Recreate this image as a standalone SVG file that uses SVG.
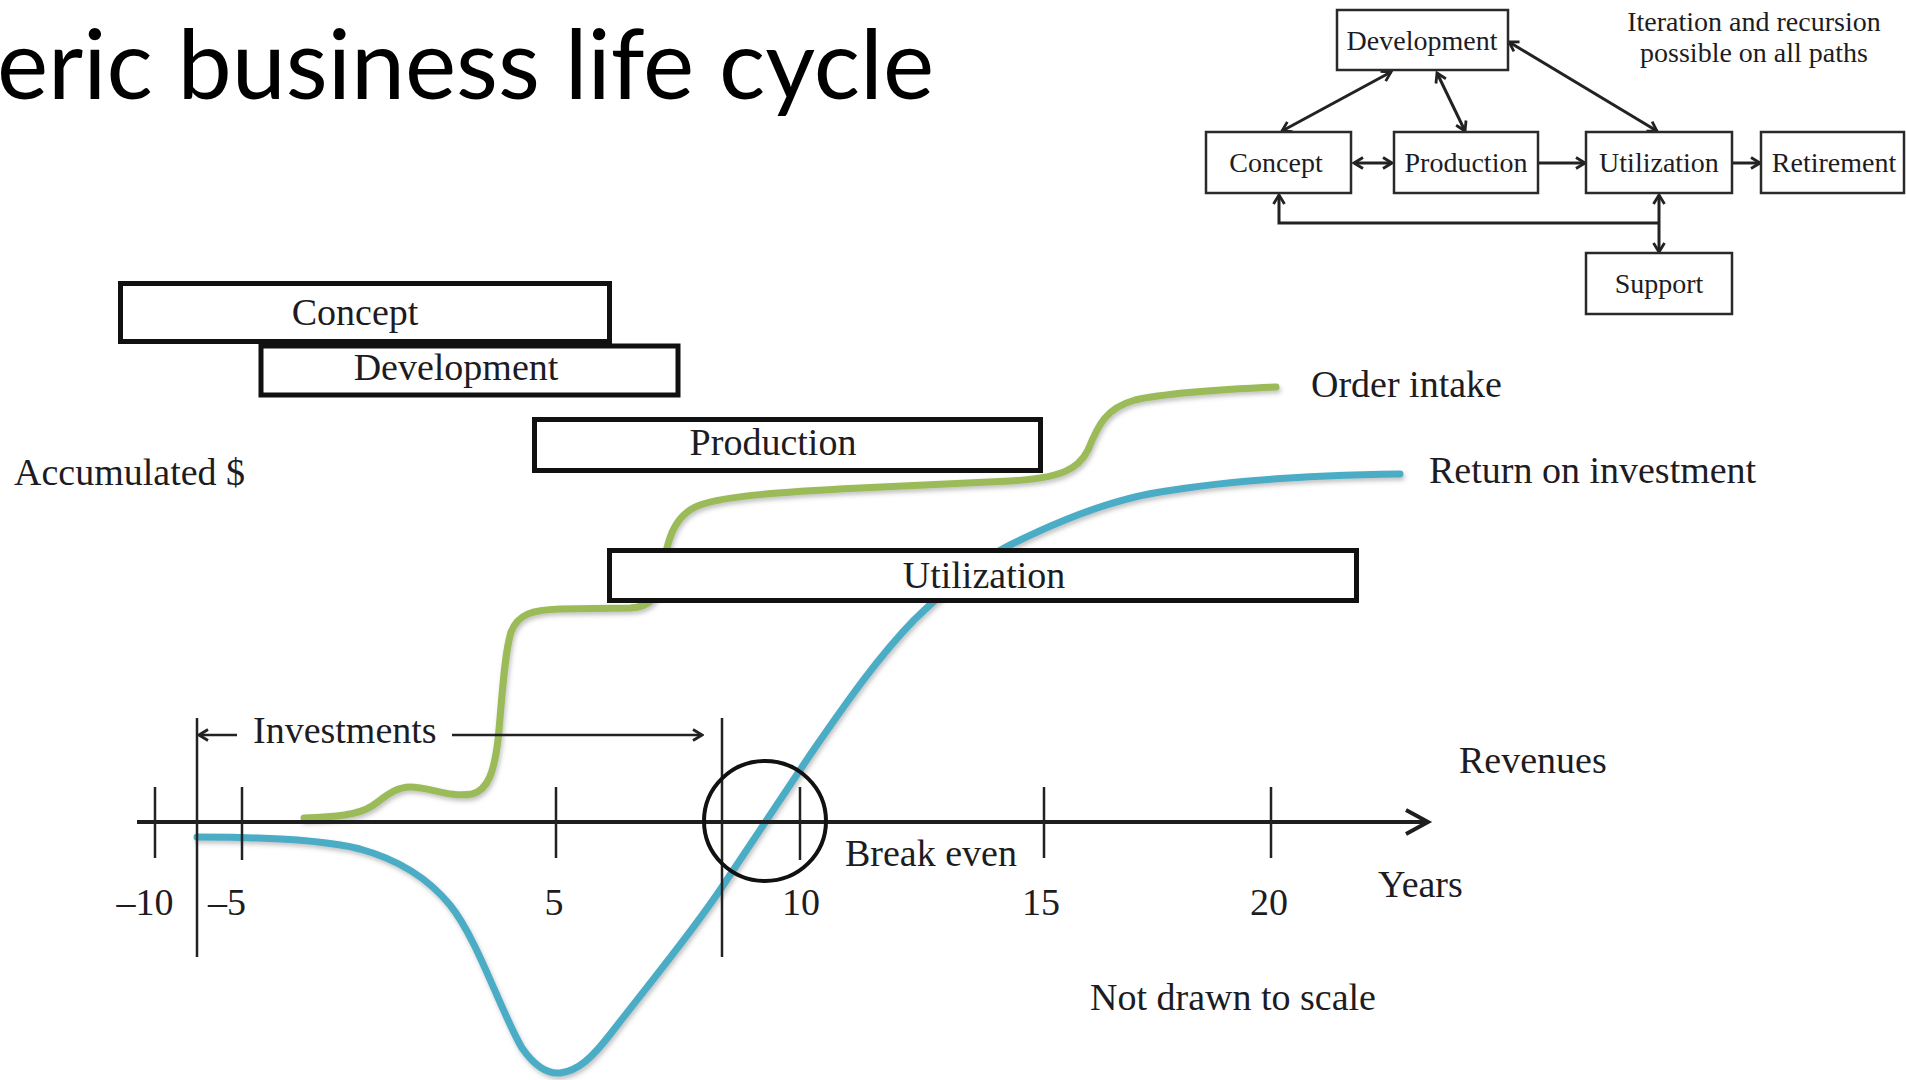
<svg xmlns="http://www.w3.org/2000/svg" width="1906" height="1080" viewBox="0 0 1906 1080">
  <style>
    .bg { fill: #ffffff; }
    .title { font-family: Lato, "Open Sans", sans-serif; font-size: 96px; fill: #000; }
    .lbl { font-family: "Liberation Serif", "Times New Roman", serif; font-size: 38px; fill: #1c1c22; }
    .sm { font-family: "Liberation Serif", "Times New Roman", serif; font-size: 28px; fill: #1c1c22; }
    .mid { text-anchor: middle; }
    .box { fill: #ffffff; stroke: #2a2a2a; stroke-width: 2.5; }
    .bar { fill: #ffffff; stroke: #111; stroke-width: 5; }
    .conn { fill: none; stroke: #222; stroke-width: 3; }
    .thin { fill: none; stroke: #222; stroke-width: 2.5; }
    .axis { fill: none; stroke: #1e1e1e; stroke-width: 4; }
    .curve { fill: none; stroke-width: 7; stroke-linecap: round; stroke-linejoin: round; filter: url(#shade); }
  </style>
  <defs>
    <marker id="tip" viewBox="-12 -8 14 16" markerWidth="14" markerHeight="16" refX="0" refY="0" orient="auto-start-reverse" markerUnits="userSpaceOnUse">
      <path d="M-9,-5.5 L0,0 L-9,5.5" fill="none" stroke="#222" stroke-width="2.8"/>
    </marker>
    <filter id="shade" x="-5%" y="-5%" width="110%" height="115%">
      <feDropShadow dx="1.5" dy="3" stdDeviation="2" flood-color="#555" flood-opacity="0.35"/>
    </filter>
  </defs>

  <rect class="bg" x="0" y="0" width="1906" height="1080"/>

  <!-- slide title -->
  <text class="title" x="-3" y="99" textLength="937" lengthAdjust="spacingAndGlyphs">eric business life cycle</text>

  <!-- life-cycle stage graph, top right -->
  <g id="connectors">
    <path class="conn" d="M1354,163 L1392,163" marker-start="url(#tip)" marker-end="url(#tip)"/>
    <path class="conn" d="M1539,163 L1585,163" marker-end="url(#tip)"/>
    <path class="conn" d="M1733,163 L1760,163" marker-end="url(#tip)"/>
    <path class="conn" d="M1391,72 L1282,131" marker-start="url(#tip)" marker-end="url(#tip)"/>
    <path class="conn" d="M1437,73 L1465,131" marker-start="url(#tip)" marker-end="url(#tip)"/>
    <path class="conn" d="M1509,42 L1657,131" marker-start="url(#tip)" marker-end="url(#tip)"/>
    <path class="conn" d="M1279,195 L1279,223 L1659,223" marker-start="url(#tip)"/>
    <path class="conn" d="M1659,195 L1659,252" marker-start="url(#tip)" marker-end="url(#tip)"/>
  </g>

  <g id="node-development">
    <rect class="box" x="1337" y="10" width="171" height="60"/>
    <text class="sm mid" x="1422" y="50">Development</text>
  </g>
  <g id="node-concept">
    <rect class="box" x="1206" y="132" width="145" height="61"/>
    <text class="sm mid" x="1276" y="172">Concept</text>
  </g>
  <g id="node-production">
    <rect class="box" x="1394" y="132" width="144" height="61"/>
    <text class="sm mid" x="1466" y="172">Production</text>
  </g>
  <g id="node-utilization">
    <rect class="box" x="1586" y="132" width="146" height="61"/>
    <text class="sm mid" x="1659" y="172">Utilization</text>
  </g>
  <g id="node-retirement">
    <rect class="box" x="1761" y="132" width="143" height="61"/>
    <text class="sm mid" x="1834" y="172">Retirement</text>
  </g>
  <g id="node-support">
    <rect class="box" x="1586" y="253" width="146" height="61"/>
    <text class="sm mid" x="1659" y="293">Support</text>
  </g>
  <g id="note">
    <text class="sm mid" x="1754" y="31">Iteration and recursion</text>
    <text class="sm mid" x="1754" y="62">possible on all paths</text>
  </g>

  <!-- chart: curves sit beneath the phase bars -->
  <g id="curves">
    <path id="order-intake" class="curve" stroke="#9bbb59"
      d="M304,818 C335,817 358,815 372,806 C385,797 395,787 410,787 C430,787 450,798 472,794 C488,790 494,772 498,740 C502,700 504,655 511,632 C518,614 532,610 560,609 L630,608 C650,607 658,598 662,575 C666,545 672,515 700,505 C725,496 780,492 860,488 L1010,481 C1060,478 1078,470 1088,450 C1098,425 1106,408 1135,400 C1170,392 1230,389 1276,387"/>
    <path id="return-on-investment" class="curve" stroke="#4bacc6"
      d="M197,837 C260,837 320,839 360,849 C400,860 428,878 450,905 C478,940 500,1010 522,1048 C536,1068 548,1074 560,1073 C578,1071 592,1058 612,1032 C648,985 690,935 722,887 C750,845 780,800 810,755 C850,697 880,655 914,620 C950,585 980,560 1010,545 C1060,520 1110,500 1160,492 C1230,480 1320,475 1400,474"/>
  </g>

  <!-- phase bars -->
  <g id="bar-concept">
    <rect class="bar" x="120.5" y="283.5" width="489" height="58"/>
    <text class="lbl mid" x="355" y="325">Concept</text>
  </g>
  <g id="bar-development">
    <rect class="bar" x="261" y="346" width="417" height="49"/>
    <text class="lbl mid" x="456" y="380">Development</text>
  </g>
  <g id="bar-production">
    <rect class="bar" x="534.5" y="419.5" width="506" height="51"/>
    <text class="lbl mid" x="773" y="455">Production</text>
  </g>
  <g id="bar-utilization">
    <rect class="bar" x="609.5" y="550.5" width="747" height="50"/>
    <text class="lbl mid" x="984" y="588">Utilization</text>
  </g>

  <!-- time axis, ticks and markers -->
  <g id="axis">
    <path class="axis" d="M137,822 L1427,822"/>
    <path class="axis" d="M1406,810 L1428,822 L1406,834"/>
    <path class="thin" d="M155,787 V858 M242,787 V860 M556,787 V858 M800,787 V860 M1044,787 V858 M1271,787 V858"/>
    <path class="thin" d="M197,718 V957 M722,718 V957"/>
    <ellipse cx="765" cy="821" rx="61" ry="60" fill="none" stroke="#111" stroke-width="4"/>
    <path class="thin" d="M199,735 L237,735" marker-start="url(#tip)"/>
    <path class="thin" d="M452,735 L702,735" marker-end="url(#tip)"/>
  </g>

  <g id="labels">
    <text class="lbl" x="14" y="485">Accumulated $</text>
    <text class="lbl" x="1311" y="397">Order intake</text>
    <text class="lbl" x="1429" y="483">Return on investment</text>
    <text class="lbl" x="1459" y="773">Revenues</text>
    <text class="lbl" x="253" y="743">Investments</text>
    <text class="lbl" x="845" y="866">Break even</text>
    <text class="lbl" x="1378" y="897">Years</text>
    <text class="lbl" x="1090" y="1010">Not drawn to scale</text>
    <text class="lbl mid" x="145" y="915">–10</text>
    <text class="lbl mid" x="227" y="915">–5</text>
    <text class="lbl mid" x="554" y="915">5</text>
    <text class="lbl mid" x="801" y="915">10</text>
    <text class="lbl mid" x="1041" y="915">15</text>
    <text class="lbl mid" x="1269" y="915">20</text>
  </g>
</svg>
